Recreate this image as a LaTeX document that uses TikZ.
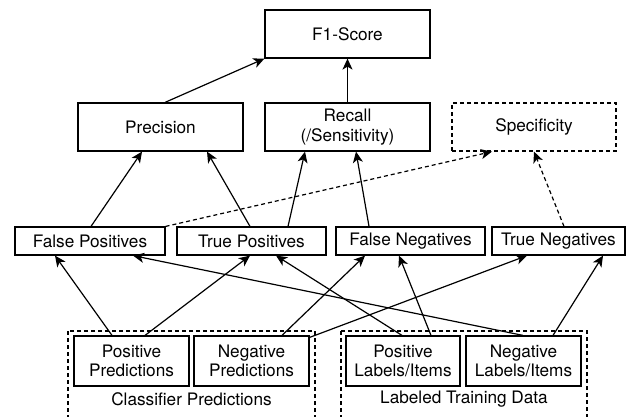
\documentclass[tikz,border=0pt]{standalone}
\usepackage{fontspec}
\setmainfont{TeX Gyre Heros}
\usetikzlibrary{arrows.meta}
\begin{document}
\begin{tikzpicture}[x=1pt,y=-1pt,
  every node/.style={font=\fontsize{17.2}{19.5}\selectfont},
  box/.style={draw, line width=1.2pt, inner sep=0pt, align=center},
  dbox/.style={box, dash pattern=on 4pt off 3pt},
  arr/.style={line width=1.2pt, -{Stealth[length=11pt,width=10pt,inset=3pt]}},
  darr/.style={arr, dash pattern=on 4pt off 3pt},
  group/.style={draw, line width=1.2pt, dash pattern=on 4pt off 3pt}]
\useasboundingbox (0,0) rectangle (644,416);
\clip (0,0) rectangle (644,416);

% metric boxes
\node[box, minimum width=165pt, minimum height=48pt] (f1) at (347.5,34) {F1-Score};
\node[box, minimum width=165pt, minimum height=48pt] (prec) at (160.5,127) {Precision};
\node[box, minimum width=165pt, minimum height=48pt] (rec) at (347.5,127) {Recall\\(/Sensitivity)};
\node[dbox, minimum width=164pt, minimum height=48pt] (spec) at (534,127) {Specificity};

% confusion counts
\node[box, minimum width=150pt, minimum height=28pt] (fp) at (90,241) {False Positives};
\node[box, minimum width=149pt, minimum height=28pt] (tp) at (251.5,241) {True Positives};
\node[box, minimum width=149pt, minimum height=28pt] (fn) at (410.5,241) {False Negatives};
\node[box, minimum width=133pt, minimum height=28pt] (tn) at (558.5,241) {True Negatives};

% groups
\draw[group] (68,331) rectangle (315,430);
\draw[group] (341,331) rectangle (587,430);
\node (cpl) at (191.5,399) {Classifier Predictions};
\node (ltl) at (464,399) {Labeled Training Data};

% sources
\node[box, minimum width=115pt, minimum height=50pt] (pp) at (131.5,361) {Positive\\Predictions};
\node[box, minimum width=115pt, minimum height=50pt] (np) at (251.5,361) {Negative\\Predictions};
\node[box, minimum width=114pt, minimum height=50pt] (pl) at (403,361) {Positive\\Labels/Items};
\node[box, minimum width=115pt, minimum height=50pt] (nl) at (523.5,361) {Negative\\Labels/Items};

% metrics to F1
\draw[arr] ([xshift=4.5pt]prec.north) -- (f1.south west);
\draw[arr] (rec.north) -- (f1.south);

% counts to metrics
\draw[arr] ([xshift=1pt]fp.north) -- ([xshift=-18.5pt]prec.south);
\draw[arr] ([xshift=-1.5pt]tp.north) -- ([xshift=46.5pt]prec.south);
\draw[arr] ([xshift=36.5pt]tp.north) -- ([xshift=-42.5pt]rec.south);
\draw[arr] ([xshift=-41.5pt]fn.north) -- ([xshift=8.5pt]rec.south);
\draw[darr] (fp.north east) -- ([xshift=-42pt]spec.south);
\draw[darr] ([xshift=5.5pt]tn.north) -- (spec.south);

% sources to counts
\draw[arr] ([xshift=-19.5pt]pp.north) -- ([xshift=-35pt]fp.south);
\draw[arr] ([xshift=13.5pt]pp.north) -- ([xshift=-1.5pt]tp.south);
\draw[arr] ([xshift=30.5pt]np.north) -- ([xshift=-45.5pt]fn.south);
\draw[arr] ([yshift=-2pt]np.north east) -- ([xshift=-31.5pt]tn.south);
\draw[arr] ([xshift=28pt]pl.north) -- ([xshift=-11.5pt]fn.south);
\draw[arr] ([xshift=-1pt]pl.north) -- ([xshift=24.5pt]tp.south);
\draw[arr] ([xshift=-0.5pt]nl.north) -- ([xshift=43pt]fp.south);
\draw[arr] ([xshift=29.5pt]nl.north) -- ([xshift=44.5pt]tn.south);
\end{tikzpicture}
\end{document}
